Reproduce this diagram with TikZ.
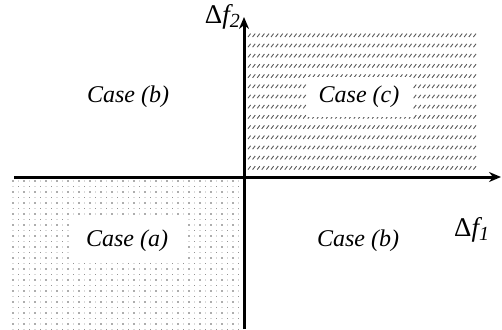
\documentclass[tikz,border=0pt]{standalone}
\usepackage{fontspec}
\newfontfamily\tnr{Liberation Serif}[ItalicFont={Liberation Serif Italic}]
\usetikzlibrary{arrows.meta}
\newcommand{\dfl}[1]{{\upshape\symbol{"0394}}\itshape f\raisebox{-0.35ex}{\fontsize{20}{20}\selectfont #1}}
\begin{document}
\begin{tikzpicture}[x=1pt,y=-1pt,
  lbl/.style={font=\tnr\fontsize{24}{28}\selectfont\itshape, inner sep=0pt},
  dlbl/.style={font=\tnr\fontsize{27}{30}\selectfont\itshape, inner sep=0pt},
  axis/.style={line width=3pt, -{Stealth[length=12pt,width=10pt]}},
  dotc/.style={fill=black!65},
  hatch/.style={draw=black!65, line width=0.9pt}]
\useasboundingbox (0,0) rectangle (502,329);
% dotted region (case a)
\foreach \i in {0,...,41}{
  \foreach \j in {0,...,27}{
    \pgfmathsetmacro{\r}{(isodd(\i)||isodd(\j)) ? 0.45 : 0.85}
    \fill[dotc] ({13+\i*5.5},{181+\j*5.5}) circle (\r);
  }
}
\fill[white] (72,218) rectangle (185,262);
% hatched region (case c)
\foreach \i in {0,...,49}{
  \foreach \j in {0,...,13}{
    \draw[hatch] ({248+\i*4.6},{37+\j*10.2}) -- ++(2.6,-3.4);
  }
}
\fill[white] (307,77) rectangle (413,117);
% axes
\coordinate (xs) at (14,177);
\coordinate (xe) at (501,177);
\coordinate (ys) at (244,329);
\coordinate (ye) at (244,17);
\draw[axis] (xs) -- (xe);
\draw[axis] (ys) -- (ye);
% labels
\node[lbl] (cb1) at (128,97) {Case (b)};
\node[lbl] (cc) at (359,97) {Case (c)};
\node[lbl] (ca) at (127,241) {Case (a)};
\node[lbl] (cb2) at (358,241) {Case (b)};
\node[dlbl, anchor=east] (f2) at (240,17) {\dfl{2}};
\node[dlbl, anchor=west] (f1) at (454,230) {\dfl{1}};
\end{tikzpicture}
\end{document}
